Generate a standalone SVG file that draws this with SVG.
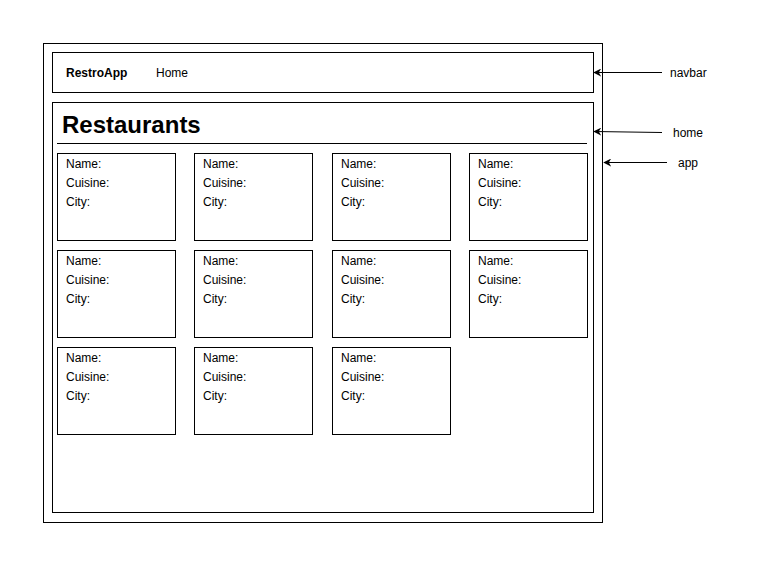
<svg xmlns="http://www.w3.org/2000/svg" width="772" height="582" viewBox="0 0 772 582">
<style>
.box{fill:#fff;stroke:#000;stroke-width:1}
.t{font-family:"Liberation Sans",Arial,sans-serif;font-size:12px;fill:#000}
.b{font-weight:bold}
.h{font-family:"Liberation Sans",Arial,sans-serif;font-size:24px;font-weight:bold;fill:#000}
.c{stroke:#000;stroke-width:1;fill:none;marker-end:url(#ah)}
</style>
<defs>
<marker id="ah" viewBox="0 0 10 10" refX="9" refY="5" markerWidth="8" markerHeight="8" orient="auto" markerUnits="userSpaceOnUse">
<path d="M0,0 L10,5 L0,10 L3,5 Z" fill="#000"/>
</marker>
<g id="card-tpl">
<rect class="box" x="0" y="0" width="118" height="87"/>
<text class="t" x="8.5" y="14.5">Name:</text>
<text class="t" x="8.5" y="33.5">Cuisine:</text>
<text class="t" x="8.5" y="52.5">City:</text>
</g>
</defs>
<rect width="772" height="582" fill="#fff"/>
<g id="app"><rect class="box" x="43.5" y="43.5" width="559" height="479"/></g>
<g id="navbar">
<rect class="box" x="52.5" y="52.5" width="541" height="40"/>
<text class="t b" x="66" y="77">RestroApp</text>
<text class="t" x="156" y="77">Home</text>
</g>
<g id="home">
<rect class="box" x="52.5" y="102.5" width="541" height="410"/>
<text class="h" x="62" y="133">Restaurants</text>
<line x1="57" y1="143.5" x2="587" y2="143.5" stroke="#000" stroke-width="1"/>
</g>
<g id="card-1" transform="translate(57.5,153.5)"><use href="#card-tpl"/></g>
<g id="card-2" transform="translate(194.5,153.5)"><use href="#card-tpl"/></g>
<g id="card-3" transform="translate(332.5,153.5)"><use href="#card-tpl"/></g>
<g id="card-4" transform="translate(469.5,153.5)"><use href="#card-tpl"/></g>
<g id="card-5" transform="translate(57.5,250.5)"><use href="#card-tpl"/></g>
<g id="card-6" transform="translate(194.5,250.5)"><use href="#card-tpl"/></g>
<g id="card-7" transform="translate(332.5,250.5)"><use href="#card-tpl"/></g>
<g id="card-8" transform="translate(469.5,250.5)"><use href="#card-tpl"/></g>
<g id="card-9" transform="translate(57.5,347.5)"><use href="#card-tpl"/></g>
<g id="card-10" transform="translate(194.5,347.5)"><use href="#card-tpl"/></g>
<g id="card-11" transform="translate(332.5,347.5)"><use href="#card-tpl"/></g>
<g id="label-navbar"><text class="t" x="670" y="77">navbar</text></g>
<g id="label-home"><text class="t" x="673" y="137">home</text></g>
<g id="label-app"><text class="t" x="678" y="167">app</text></g>
<g id="connectors">
<line class="c" x1="662" y1="72.5" x2="594" y2="72.5"/>
<line class="c" x1="662" y1="132.5" x2="594" y2="131.5"/>
<line class="c" x1="667" y1="162.5" x2="604" y2="162.5"/>
</g>
</svg>
